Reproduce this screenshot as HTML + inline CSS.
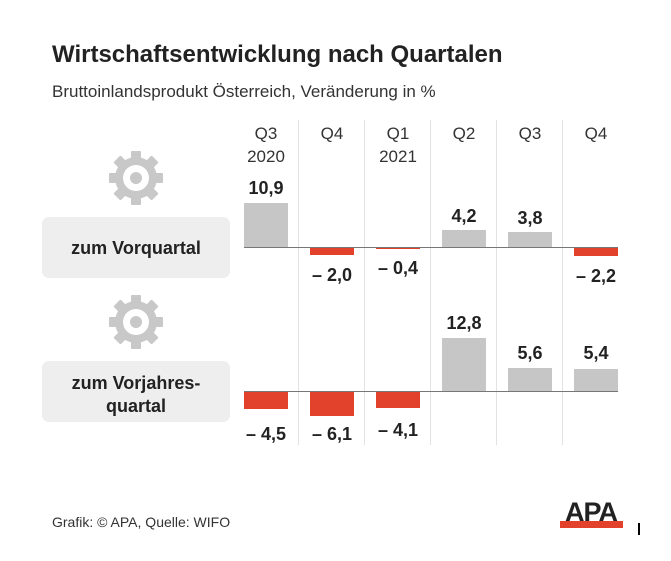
<!DOCTYPE html>
<html><head><meta charset="utf-8"><style>
body{margin:0;background:#fff;width:671px;height:556px;overflow:hidden;font-family:"Liberation Sans",Arial,sans-serif;}
</style></head><body>
<svg width="671" height="556" xmlns="http://www.w3.org/2000/svg" font-family="Liberation Sans, Arial, sans-serif">
<defs>
<g id="gear">
 <g fill="#c8c8c8">
  <rect x="-5" y="-27" width="10" height="54" rx="1"/>
  <rect x="-5" y="-27" width="10" height="54" rx="1" transform="rotate(45)"/>
  <rect x="-5" y="-27" width="10" height="54" rx="1" transform="rotate(90)"/>
  <rect x="-5" y="-27" width="10" height="54" rx="1" transform="rotate(135)"/>
  <circle r="21"/>
 </g>
 <circle r="13" fill="#fff"/>
 <circle r="6" fill="#c8c8c8"/>
</g>
</defs>
<text x="52" y="62" font-size="24" font-weight="bold" fill="#222">Wirtschaftsentwicklung nach Quartalen</text>
<text x="52" y="97" font-size="17" fill="#333">Bruttoinlandsprodukt Österreich, Veränderung in %</text>
<g stroke="#e2e2e2" stroke-width="1">
 <line x1="298.5" y1="120" x2="298.5" y2="445"/>
 <line x1="364.5" y1="120" x2="364.5" y2="445"/>
 <line x1="430.5" y1="120" x2="430.5" y2="445"/>
 <line x1="496.5" y1="120" x2="496.5" y2="445"/>
 <line x1="562.5" y1="120" x2="562.5" y2="445"/>
</g>
<g font-size="17" fill="#333" text-anchor="middle">
 <text x="266" y="139">Q3</text><text x="266" y="162">2020</text>
 <text x="332" y="139">Q4</text>
 <text x="398" y="139">Q1</text><text x="398" y="162">2021</text>
 <text x="464" y="139">Q2</text>
 <text x="530" y="139">Q3</text>
 <text x="596" y="139">Q4</text>
</g>
<rect x="42" y="217" width="188" height="61" rx="7" fill="#eeeeee"/>
<rect x="42" y="361" width="188" height="61" rx="7" fill="#eeeeee"/>
<g font-size="18" font-weight="bold" fill="#222" text-anchor="middle">
 <text x="136" y="254">zum Vorquartal</text>
 <text x="136" y="389">zum Vorjahres-</text>
 <text x="136" y="412">quartal</text>
</g>
<use href="#gear" x="136" y="178"/>
<use href="#gear" x="136" y="322"/>
<g>
 <rect x="244" y="203" width="44" height="44" fill="#c6c6c6"/>
 <rect x="310" y="247" width="44" height="8" fill="#e2412b"/>
 <rect x="376" y="247" width="44" height="2" fill="#e2412b"/>
 <rect x="442" y="230" width="44" height="17" fill="#c6c6c6"/>
 <rect x="508" y="232" width="44" height="15" fill="#c6c6c6"/>
 <rect x="574" y="247" width="44" height="9" fill="#e2412b"/>
 <line x1="244" y1="247.5" x2="618" y2="247.5" stroke="#777" stroke-width="1"/>
</g>
<g>
 <rect x="244" y="391" width="44" height="18" fill="#e2412b"/>
 <rect x="310" y="391" width="44" height="25" fill="#e2412b"/>
 <rect x="376" y="391" width="44" height="17" fill="#e2412b"/>
 <rect x="442" y="338" width="44" height="53" fill="#c6c6c6"/>
 <rect x="508" y="368" width="44" height="23" fill="#c6c6c6"/>
 <rect x="574" y="369" width="44" height="22" fill="#c6c6c6"/>
 <line x1="244" y1="391.5" x2="618" y2="391.5" stroke="#777" stroke-width="1"/>
</g>
<g font-size="18" font-weight="bold" fill="#222" text-anchor="middle">
 <text x="266" y="194">10,9</text>
 <text x="332" y="281">– 2,0</text>
 <text x="398" y="274">– 0,4</text>
 <text x="464" y="222">4,2</text>
 <text x="530" y="224">3,8</text>
 <text x="596" y="282">– 2,2</text>
 <text x="266" y="440">– 4,5</text>
 <text x="332" y="440">– 6,1</text>
 <text x="398" y="436">– 4,1</text>
 <text x="464" y="329">12,8</text>
 <text x="530" y="359">5,6</text>
 <text x="596" y="359">5,4</text>
</g>
<text x="52" y="527" font-size="14" fill="#333">Grafik: © APA, Quelle: WIFO</text>
<rect x="560" y="521" width="63" height="7" fill="#e2412b"/>
<text x="591" y="521" font-size="27" font-weight="bold" fill="#222" text-anchor="middle" letter-spacing="-1">APA</text>
<rect x="638" y="523" width="2" height="12" fill="#000"/>
</svg>
</body></html>
